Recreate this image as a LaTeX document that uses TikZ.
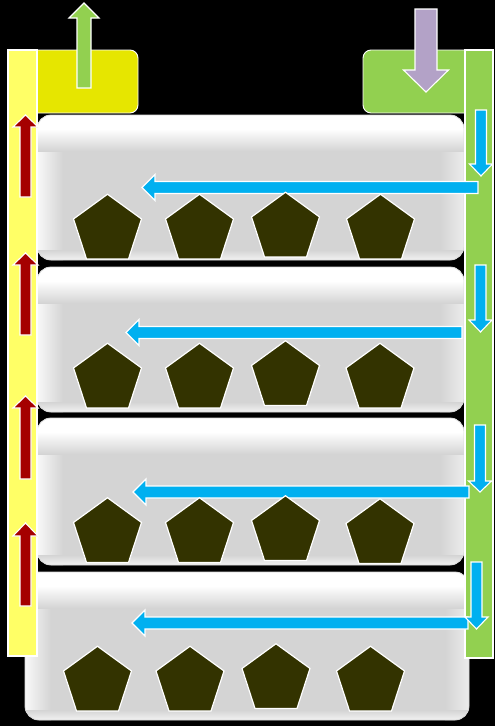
\documentclass[tikz,border=0pt]{standalone}
\usetikzlibrary{shapes.geometric}
\definecolor{panelgray}{HTML}{D4D4D4}
\definecolor{hdryellow}{HTML}{E6E600}
\definecolor{baryellow}{HTML}{FFFF66}
\definecolor{leafgreen}{HTML}{92D050}
\definecolor{lavender}{HTML}{B3A2C7}
\definecolor{skyblue}{HTML}{00B0F0}
\definecolor{darkred}{HTML}{A50000}
\definecolor{pentolive}{HTML}{333300}
% vertical arrow: colour, cx, shaft half, head half, y tail, y tip, y head base
\newcommand{\vArrow}[7]{%
  \fill[#1, draw=white, line width=1.1pt, line join=miter]
    (#2-#3,#5) -- (#2-#3,#7) -- (#2-#4,#7) -- (#2,#6) -- (#2+#4,#7) -- (#2+#3,#7) -- (#2+#3,#5) -- cycle;}
% horizontal arrow: colour, cy, shaft half, head half, x tail, x tip, x head base
\newcommand{\hArrow}[7]{%
  \fill[#1, draw=white, line width=1.1pt, line join=miter]
    (#5,#2-#3) -- (#7,#2-#3) -- (#7,#2-#4) -- (#6,#2) -- (#7,#2+#4) -- (#7,#2+#3) -- (#5,#2+#3) -- cycle;}
% panel: x1, y top, x2, y bottom
\newcommand{\panelbox}[4]{%
  \begin{scope}
    \clip[rounded corners=14pt] (#1,#2) rectangle (#3,#4);
    \fill[panelgray] (#1,#2) rectangle (#3,#4);
    \shade[left color=white!85!panelgray, right color=panelgray] (#1,#2) rectangle (#1+26,#4);
    \shade[left color=panelgray, right color=white!55!panelgray] (#3-24,#2) rectangle (#3,#4);
    \fill[white] (#1,#2) rectangle (#3,#2+14);
    \shade[top color=white, bottom color=panelgray] (#1,#2+14) rectangle (#3,#2+36);
    \shade[top color=panelgray, bottom color=white!70!panelgray] (#1,#4-10) rectangle (#3,#4);
  \end{scope}
  \draw[rounded corners=14pt, line width=0.8pt, white!70!gray] (#1,#2) rectangle (#3,#4);}
\tikzset{
  pent/.style={regular polygon, regular polygon sides=5, minimum size=71.5pt,
    inner sep=0pt, outer sep=0pt, fill=pentolive, draw=white, line width=1.2pt},
  hdr/.style={draw=white, line width=0.9pt, rounded corners=8pt},
  sidebar/.style={draw=white, line width=1.1pt}
}
\begin{document}
\begin{tikzpicture}[x=1pt, y=-1pt]
\useasboundingbox (0,0) rectangle (495,726);
\fill[black] (0,0) rectangle (495,726);

% panels
\panelbox{37}{115}{464}{260}
\panelbox{37}{267}{464}{412}
\panelbox{37}{418}{464}{565}
\panelbox{25}{572}{469}{720}

% header boxes
\filldraw[hdr, fill=hdryellow] (20,50) rectangle (138,113);
\filldraw[hdr, fill=leafgreen] (363,50) rectangle (480,113);

% side bars
\filldraw[sidebar, fill=baryellow] (8,50) rectangle (37,656);
\filldraw[sidebar, fill=leafgreen] (465,50) rectangle (493,658);

% top arrows
\vArrow{leafgreen}{84}{7}{15}{88}{3}{18}
\vArrow{lavender}{426}{11}{22.5}{9}{92}{70}

% red up arrows
\vArrow{darkred}{25.5}{5.5}{12.5}{197}{115}{127}
\vArrow{darkred}{25.5}{5.5}{12.5}{335}{253}{265}
\vArrow{darkred}{25.5}{5.5}{12.5}{479}{396}{408}
\vArrow{darkred}{25.5}{5.5}{12.5}{606}{523}{536}

% blue horizontal arrows
\hArrow{skyblue}{187.5}{6}{13}{478}{142}{155}
\hArrow{skyblue}{332.5}{6}{13}{462}{126}{139}
\hArrow{skyblue}{492}{6}{13}{469}{133}{146}
\hArrow{skyblue}{623}{6}{13}{468}{132}{145}

% blue down arrows
\vArrow{skyblue}{481}{5.5}{11.5}{110}{176}{164}
\vArrow{skyblue}{480.5}{5.5}{11.5}{265}{332}{320}
\vArrow{skyblue}{480}{5.5}{11.5}{425}{492}{481}
\vArrow{skyblue}{476.5}{5.5}{11.5}{562}{629}{617}

% pentagons
\node[pent] (p11) at (107.5,230) {};
\node[pent] (p12) at (199.5,230) {};
\node[pent] (p13) at (285.5,228) {};
\node[pent] (p14) at (380.5,230) {};
\node[pent] (p21) at (107.5,379) {};
\node[pent] (p22) at (199.5,379) {};
\node[pent] (p23) at (285.5,376.5) {};
\node[pent] (p24) at (380,379) {};
\node[pent] (p31) at (107.5,533.5) {};
\node[pent] (p32) at (199.5,533.5) {};
\node[pent] (p33) at (285.5,531.5) {};
\node[pent] (p34) at (380,534.5) {};
\node[pent] (p41) at (97.5,682) {};
\node[pent] (p42) at (190,682) {};
\node[pent] (p43) at (276,679.5) {};
\node[pent] (p44) at (370.5,682) {};
\end{tikzpicture}
\end{document}
